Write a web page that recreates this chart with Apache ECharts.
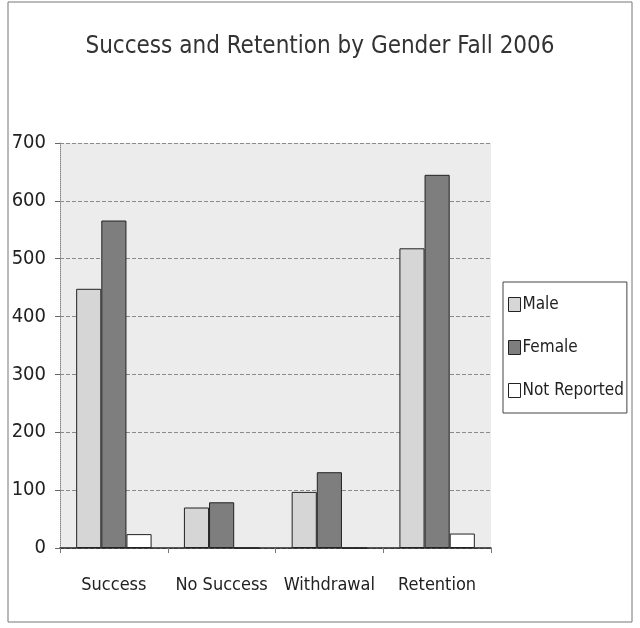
<!DOCTYPE html>
<html>
<head>
    <meta charset="utf-8">
    <script src="https://cdn.jsdelivr.net/npm/echarts@6/dist/echarts.min.js"></script>
    <title>Success and Retention by Gender Fall 2006</title>
    <style>
        body { margin: 0; background: #fff; }
        #chart { width: 640px; height: 628px; }
    </style>
</head>
<body>
<div id="chart"></div>
<script>
    var categories = ['Success', 'No Success', 'Withdrawal', 'Retention'];
    var male = [448, 70, 97, 518];
    var female = [566, 79, 131, 645];
    var notReported = [24, 0, 0, 25];
    var yTicks = [0, 100, 200, 300, 400, 500, 600, 700];

    var font = "'DejaVu Sans Condensed', 'Liberation Sans Narrow', sans-serif";

    var chart = echarts.init(document.getElementById('chart'));
    chart.setOption({
        animation: false,
        backgroundColor: '#fff',
        title: {
            text: 'Success and Retention by Gender Fall 2006',
            left: 'center',
            top: 30,
            textStyle: { fontFamily: font, fontSize: 24, fontWeight: 'normal', color: '#333' }
        },
        legend: {
            orient: 'vertical',
            left: 503,
            top: 282,
            icon: 'rect',
            itemWidth: 12,
            itemHeight: 14,
            itemGap: 26,
            padding: [14, 3, 14, 5],
            borderColor: '#444',
            borderWidth: 1,
            textStyle: { fontFamily: font, fontSize: 17, color: '#222', padding: [0, 0, 0, -3] },
            data: [
                { name: 'Male', itemStyle: { color: '#d6d6d6', borderColor: '#222', borderWidth: 1 } },
                { name: 'Female', itemStyle: { color: '#7e7e7e', borderColor: '#222', borderWidth: 1 } },
                { name: 'Not Reported', itemStyle: { color: '#fff', borderColor: '#222', borderWidth: 1 } }
            ]
        },
        grid: {
            left: 60,
            right: 149,
            top: 143,
            bottom: 80,
            show: true,
            backgroundColor: '#ececec',
            borderWidth: 0
        },
        graphic: [{
            type: 'rect',
            shape: { x: 8, y: 2, width: 624, height: 620 },
            style: { fill: 'none', stroke: '#777', lineWidth: 1 },
            z: -1
        }],
        xAxis: {
            type: 'category',
            data: categories,
            axisLine: { lineStyle: { color: '#222', width: 1.5 } },
            axisTick: { show: true, length: 5, lineStyle: { color: '#777' } },
            axisLabel: { interval: 0, fontFamily: font, fontSize: 18, color: '#222', margin: 28 }
        },
        yAxis: {
            type: 'value',
            min: 0,
            max: 700,
            interval: 100,
            axisLine: { show: true, lineStyle: { color: '#888', type: 'dotted' } },
            axisTick: { show: true, length: 5, lineStyle: { color: '#666' } },
            axisLabel: {
                fontFamily: font, fontSize: 20, color: '#222', margin: 14,
                formatter: function (v) { return yTicks.indexOf(v) >= 0 ? String(v) : ''; }
            },
            splitLine: { lineStyle: { color: '#8a8a8a', type: 'dashed', width: 1 } }
        },
        series: [
            {
                name: 'Male', type: 'bar', data: male,
                barGap: '0%', barCategoryGap: '30%',
                itemStyle: { color: '#d6d6d6', borderColor: '#222', borderWidth: 1 }
            },
            {
                name: 'Female', type: 'bar', data: female,
                barGap: '0%', barCategoryGap: '30%',
                itemStyle: { color: '#7e7e7e', borderColor: '#222', borderWidth: 1 }
            },
            {
                name: 'Not Reported', type: 'bar', data: notReported,
                barGap: '0%', barCategoryGap: '30%',
                itemStyle: { color: '#fff', borderColor: '#222', borderWidth: 1 }
            }
        ]
    });
</script>
</body>
</html>
